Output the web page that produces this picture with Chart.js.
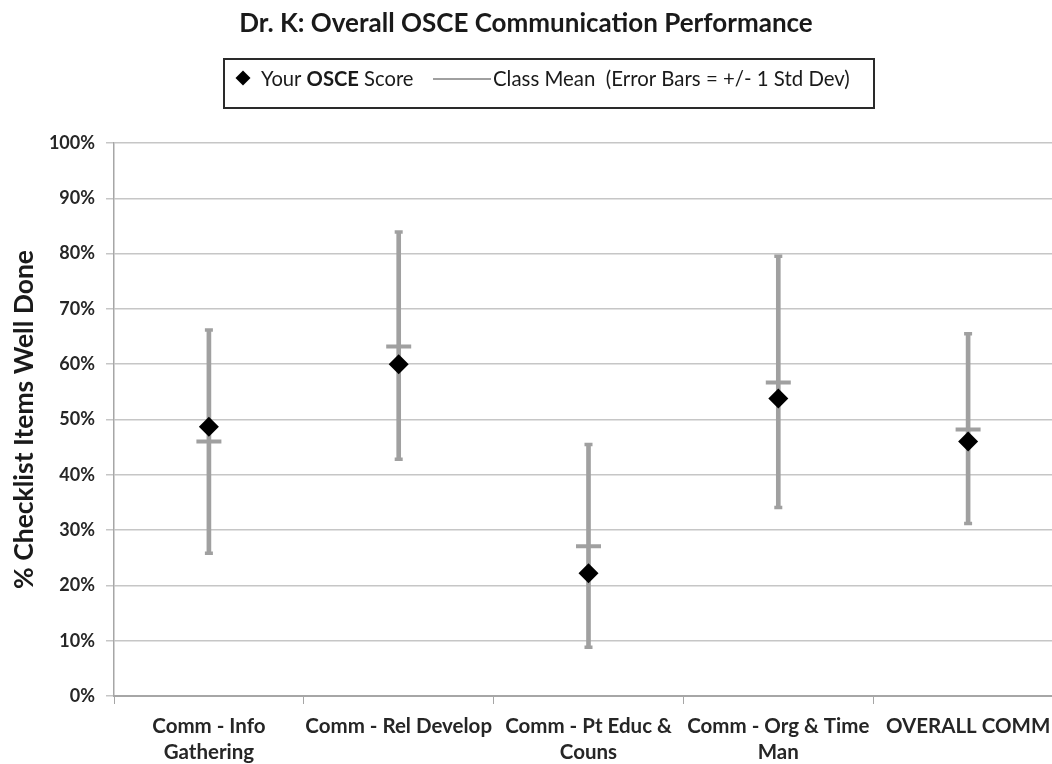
<!DOCTYPE html>
<html><head><meta charset="utf-8">
<script src="https://cdn.jsdelivr.net/npm/chart.js@4/dist/chart.umd.min.js"></script>
<style>
html,body{margin:0;padding:0;background:#fff;overflow:hidden;width:1052px;height:764px;}
#wrap{position:absolute;left:-11px;top:0;width:1074px;height:764px;}
</style></head><body>
<div id="wrap"><canvas id="c" width="1074" height="764"></canvas></div>
<script>
const categories = [['Comm - Info','Gathering'], 'Comm - Rel Develop', ['Comm - Pt Educ &','Couns'], ['Comm - Org & Time','Man'], 'OVERALL COMM'];
const yourScore = [48.7, 60.0, 22.2, 53.8, 46.0];
const classMean = [46.0, 63.2, 27.1, 56.7, 48.2];
const stdLow  = [25.8, 42.8, 8.8, 34.1, 31.2];
const stdHigh = [66.2, 83.9, 45.5, 79.5, 65.5];
const yTickStep = 10;
const titleText = 'Dr. K: Overall OSCE Communication Performance';
const yTitleText = '% Checklist Items Well Done';
const seriesNames = ['Your OSCE Score', 'Class Mean  (Error Bars = +/- 1 Std Dev)'];
const boldWords = ['OSCE'];

const FONT = 'Lato, "Open Sans", "DejaVu Sans", sans-serif';
const GRAY = '#a0a0a0';

const errorRanges = stdLow.map((lo, i) => [lo, stdHigh[i]]);

const boxLegend = {
  id: 'boxLegend',
  afterDraw(chart) {
    const ctx = chart.ctx;
    const ox = 11;
    ctx.save();
    ctx.strokeStyle = '#2a2a2a';
    ctx.lineWidth = 2;
    ctx.strokeRect(224 + ox, 59, 650, 49);
    const cy = 79;
    const dx = 243 + ox, r = 7.5;
    ctx.fillStyle = '#000';
    ctx.beginPath();
    ctx.moveTo(dx, cy - r - 1); ctx.lineTo(dx + r, cy - 1); ctx.lineTo(dx, cy + r - 1); ctx.lineTo(dx - r, cy - 1);
    ctx.closePath(); ctx.fill();
    ctx.textBaseline = 'middle';
    ctx.fillStyle = '#1a1a1a';
    let x = 261 + ox;
    const parts = seriesNames[0].split(/(\s+)/);
    parts.forEach(p => {
      const bold = boldWords.includes(p);
      ctx.font = (bold ? 'bold ' : '') + '20.2px ' + FONT;
      ctx.fillText(p, x, cy);
      x += ctx.measureText(p).width;
    });
    ctx.strokeStyle = GRAY;
    ctx.lineWidth = 2;
    ctx.beginPath();
    ctx.moveTo(433 + ox, cy); ctx.lineTo(491 + ox, cy); ctx.stroke();
    ctx.font = '20.4px ' + FONT;
    ctx.fillText(seriesNames[1], 493 + ox, cy);
    ctx.restore();
  }
};

new Chart(document.getElementById('c'), {
  type: 'bar',
  data: {
    labels: categories,
    datasets: [
      { type: 'line', label: seriesNames[0], data: yourScore, showLine: false,
        pointStyle: 'rectRot', pointRadius: 10, pointHoverRadius: 10,
        backgroundColor: '#000', borderColor: '#000', borderWidth: 0, order: 0 },
      { type: 'line', label: seriesNames[1], data: classMean, showLine: false,
        pointStyle: 'line', pointRadius: 12.5, pointHoverRadius: 12.5,
        borderColor: GRAY, backgroundColor: GRAY, pointBorderWidth: 4, order: 1 },
      { type: 'line', label: 'low cap', data: stdLow, showLine: false,
        pointStyle: 'line', pointRadius: 4, borderColor: GRAY, pointBorderWidth: 3.5, order: 2 },
      { type: 'line', label: 'high cap', data: stdHigh, showLine: false,
        pointStyle: 'line', pointRadius: 4, borderColor: GRAY, pointBorderWidth: 3.5, order: 2 },
      { type: 'bar', label: 'Std Dev', data: errorRanges, backgroundColor: GRAY,
        borderWidth: 0, barThickness: 4, order: 3 }
    ]
  },
  options: {
    responsive: false,
    animation: false,
    layout: { padding: 0, autoPadding: false },
    plugins: {
      legend: { display: false },
      tooltip: { enabled: false },
      title: {
        display: true, text: titleText, color: '#1a1a1a',
        font: { family: FONT, size: 26, weight: 'bold', lineHeight: 1.2 },
        padding: { top: 8, bottom: 103.8 }
      }
    },
    scales: {
      x: {
        type: 'category', offset: true,
        grid: { display: true, drawOnChartArea: false, drawTicks: true, tickLength: 8, offset: true, color: '#a6a6a6' },
        border: { display: true, color: '#a6a6a6', width: 2 },
        ticks: { color: '#262626', font: { family: FONT, size: 20.5, weight: 'bold', lineHeight: 1.27 }, padding: 9, maxRotation: 0, autoSkip: false },
        afterFit(scale) { scale.height = 68; }
      },
      y: {
        min: 0, max: 100,
        ticks: { stepSize: yTickStep, callback: v => v + '%', color: '#262626',
          font: { family: FONT, size: 18, weight: 'bold' }, padding: 11 },
        grid: { color: '#c6c6c6', lineWidth: 1.5, tickLength: 8, drawTicks: true },
        border: { display: true, color: '#a6a6a6', width: 1.5 },
        title: { display: true, text: yTitleText, color: '#1a1a1a',
          font: { family: FONT, size: 26.5, weight: 'bold', lineHeight: 1.2 }, padding: { top: 20, bottom: 0 } },
        afterFit(scale) { scale.width = 125; }
      }
    }
  },
  plugins: [boxLegend]
});
</script>
</body></html>
